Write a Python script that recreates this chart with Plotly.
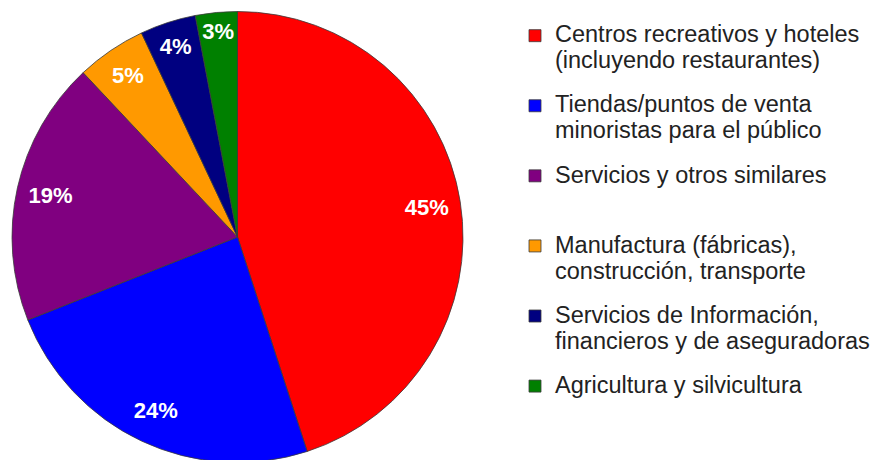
import plotly.graph_objects as go

sector_lines = [
    ["Centros recreativos y hoteles", "(incluyendo restaurantes)"],
    ["Tiendas/puntos de venta", "minoristas para el público"],
    ["Servicios y otros similares"],
    ["Manufactura (fábricas),", "construcción, transporte"],
    ["Servicios de Información,", "financieros y de aseguradoras"],
    ["Agricultura y silvicultura"],
]
shares = [45, 24, 19, 5, 4, 3]
colors = ["#FF0000", "#0000FF", "#800080", "#FF9900", "#000080", "#008000"]

W, H = 878, 460


def legend_label(lines):
    # every entry is padded to three lines so all entries get the same height;
    # the second line goes in a <sub> to open the line spacing a little
    parts = ["<span style='font-size:23.5px'>%s</span>" % lines[0]]
    if len(lines) > 1:
        parts.append("<sub><span style='font-size:23.5px'>%s</span></sub>" % lines[1])
    parts += [" "] * (3 - len(parts))
    return "<br>".join(parts)


labels = [legend_label(lines) for lines in sector_lines]
pie_domain = dict(x=[4 / W, 455 / W], y=[2 / H, 1])

fig = go.Figure()

# the coloured pie with the legend
fig.add_trace(
    go.Pie(
        labels=labels,
        values=shares,
        sort=False,
        direction="clockwise",
        rotation=0,
        marker=dict(colors=colors, line=dict(color="#3a3a3a", width=0.8)),
        textinfo="none",
        domain=pie_domain,
        hoverinfo="percent",
    )
)

# transparent ring on top, only to put the percentages near the rim
fig.add_trace(
    go.Pie(
        labels=labels,
        values=shares,
        sort=False,
        direction="clockwise",
        rotation=0,
        hole=0.7,
        marker=dict(colors=["rgba(0,0,0,0)"] * len(shares), line=dict(width=0)),
        texttemplate="%{value}%",
        textposition="inside",
        insidetextorientation="horizontal",
        textfont=dict(family="Liberation Sans", size=22, color="white", weight="bold"),
        domain=pie_domain,
        showlegend=False,
        hoverinfo="skip",
    )
)

fig.update_layout(
    width=W,
    height=H,
    margin=dict(l=0, r=0, t=0, b=0),
    paper_bgcolor="white",
    plot_bgcolor="white",
    font=dict(family="Liberation Sans", color="#222222"),
    uniformtext=dict(minsize=22, mode="show"),
    legend=dict(
        x=507 / W,
        y=1 - 10 / H,
        xanchor="left",
        yanchor="top",
        valign="top",
        font=dict(family="Liberation Sans", size=17.2, color="#222222"),
    ),
)

fig.write_html("out.html")
